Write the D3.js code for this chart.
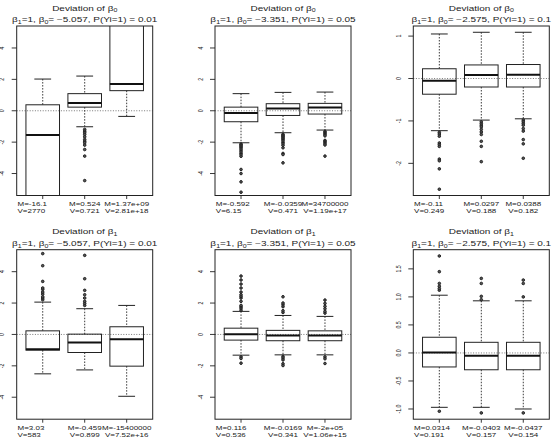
<!DOCTYPE html>
<html>
<head>
<meta charset="utf-8">
<script src="https://cdn.jsdelivr.net/npm/d3@7"></script>
<style>
  body { margin: 0; background: #fff; }
  text { font-family: "Liberation Sans", Arial, sans-serif; fill: #222; }
</style>
</head>
<body>
<svg id="chart" width="557" height="438"></svg>
<script>
// panel headings
const paramIdx = ["0", "0", "0", "1", "1", "1"];
const beta0Vals = ["\u22125.057", "\u22123.351", "\u22122.575", "\u22125.057", "\u22123.351", "\u22122.575"];
const probVals = ["0.01", "0.05", "0.1", "0.01", "0.05", "0.1"];

// fixed ylim (null = from data)
const yLims = [[-5, 5], [-5, 5], null, [-5, 5], [-5, 5], null];
const yTicks = [
  [-4, -2, 0, 2, 4], [-4, -2, 0, 2, 4], [-2, -1, 0, 1],
  [-4, -2, 0, 2, 4], [-4, -2, 0, 2, 4], [-1, -0.5, 0, 0.5, 1, 1.5]
];

// box stats: [lower whisker, q1, median, q3, upper whisker]
const stats = [
  [[-9, -7, -1.55, 0.38, 2.02], [-1.02, 0.23, 0.49, 1.09, 2.21], [-0.36, 1.28, 1.70, 7, 9]],
  [[-2.04, -0.70, -0.15, 0.23, 1.09], [-1.40, -0.30, 0.15, 0.45, 1.17], [-1.23, -0.21, 0.21, 0.47, 1.19]],
  [[-1.23, -0.37, -0.05, 0.23, 1.05], [-0.98, -0.20, 0.08, 0.32, 1.09], [-0.95, -0.20, 0.09, 0.33, 1.09]],
  [[-2.51, -1.00, -0.94, 0.23, 2.06], [-2.26, -1.15, -0.51, 0.02, 1.64], [-3.94, -2.02, -0.30, 0.49, 1.85]],
  [[-1.32, -0.36, 0.02, 0.40, 1.47], [-1.30, -0.40, -0.06, 0.26, 1.21], [-1.30, -0.40, -0.06, 0.23, 1.15]],
  [[-0.97, -0.25, 0.006, 0.28, 1.03], [-0.97, -0.30, -0.05, 0.19, 0.93], [-1.00, -0.30, -0.05, 0.19, 0.93]]
];

const outliers = [
  [[], [-1.19, -1.30, -1.40, -1.51, -1.66, -1.83, -1.94, -2.04, -2.19, -2.47, -2.89, -4.45], []],
  [[-2.12, -2.18, -2.25, -2.32, -2.40, -2.50, -2.60, -2.70, -2.80, -2.90, -3.74, -4.00, -4.53, -5.19],
   [-1.50, -1.56, -1.62, -1.68, -1.75, -1.82, -1.90, -2.00, -2.10, -2.20, -2.36, -2.72, -2.79, -3.32],
   [-1.32, -1.38, -1.45, -1.52, -1.60, -1.89, -1.95, -2.02, -2.10, -2.18, -2.89]],
  [[-1.27, -1.31, -1.36, -1.52, -1.56, -1.60, -1.90, -1.94, -2.13, -2.61],
   [-1.02, -1.06, -1.10, -1.14, -1.20, -1.26, -1.32, -1.48, -1.60, -1.96],
   [-0.98, -1.02, -1.06, -1.10, -1.18, -1.24, -1.44, -1.54, -1.88]],
  [[2.21, 2.32, 2.40, 2.57, 2.70, 2.87, 2.96, 3.38, 4.38, 5.15],
   [1.85, 1.98, 2.11, 2.32, 2.53, 2.81, 3.55, 5.04], []],
  [[1.55, 1.68, 1.77, 1.85, 2.11, 2.32, 2.43, 2.53, 2.70, 2.96, 3.21, 3.47, 3.72, -1.43, -1.53, -1.83],
   [1.40, 1.51, 1.77, 1.89, 2.00, 2.40, -1.40, -1.50, -1.62, -1.87, -1.98],
   [1.36, 1.47, 1.64, 1.79, 1.98, 2.19, -1.43, -1.55, -1.85]],
  [[1.12, 1.15, 1.19, 1.24, 1.45, 1.73, -1.04],
   [0.95, 1.01, 1.24, 1.33, -1.07],
   [1.00, 1.24, 1.30, -1.07]]
];

const meanLabels = [
  ["M=-16.1", "M=0.524", "M=1.37e+09"],
  ["M=-0.592", "M=-0.0359", "M=34700000"],
  ["M=-0.11", "M=0.0297", "M=0.0388"],
  ["M=3.03", "M=-0.459", "M=-15400000"],
  ["M=0.116", "M=-0.0169", "M=-2e+05"],
  ["M=0.0314", "M=-0.0403", "M=-0.0437"]
];
const varLabels = [
  ["V=2770", "V=0.721", "V=2.81e+18"],
  ["V=6.15", "V=0.471", "V=1.19e+17"],
  ["V=0.249", "V=0.188", "V=0.182"],
  ["V=583", "V=0.899", "V=7.52e+16"],
  ["V=0.536", "V=0.341", "V=1.06e+15"],
  ["V=0.191", "V=0.157", "V=0.154"]
];

// layout
const colLeft = [16.7, 215, 413.3];
const rowTop = [26, 249.7];
const plotW = 136, plotH = 169.5;
const K = 0.65; // vertical squash of the text

const svg = d3.select("#chart");

function squashText(g, x, y) {
  return g.append("text").attr("transform", `translate(${x},${y}) scale(1,${K})`);
}

stats.forEach((panelStats, p) => {
  const left = colLeft[p % 3];
  const top = rowTop[Math.floor(p / 3)];
  const g = svg.append("g");

  // y domain, R style 4% padding
  let lim = yLims[p];
  if (!lim) {
    const all = panelStats.flatMap(s => [s[0], s[4]]).concat(outliers[p].flat());
    lim = d3.extent(all);
  }
  const pad = (lim[1] - lim[0]) * 0.04;
  const y = d3.scaleLinear().domain([lim[0] - pad, lim[1] + pad]).range([top + plotH, top]);
  const x = d3.scaleLinear().domain([0.38, 3.62]).range([left, left + plotW]);
  const bw = x(0.8) - x(0);

  g.append("clipPath").attr("id", "clip" + p)
    .append("rect").attr("x", left).attr("y", top).attr("width", plotW).attr("height", plotH);

  const inner = g.append("g").attr("clip-path", `url(#clip${p})`);

  // dotted zero line
  inner.append("line")
    .attr("x1", left).attr("x2", left + plotW)
    .attr("y1", y(0)).attr("y2", y(0))
    .attr("stroke", "#555").attr("stroke-width", 0.8)
    .attr("stroke-dasharray", "1,1.6");

  const boxes = inner.selectAll("g.box").data(panelStats).join("g").attr("class", "box");

  // whiskers
  boxes.append("line")
    .attr("x1", (d, i) => x(i + 1)).attr("x2", (d, i) => x(i + 1))
    .attr("y1", d => y(d[4])).attr("y2", d => y(d[3]))
    .attr("stroke", "#222").attr("stroke-width", 0.9).attr("stroke-dasharray", "1.5,1.5");
  boxes.append("line")
    .attr("x1", (d, i) => x(i + 1)).attr("x2", (d, i) => x(i + 1))
    .attr("y1", d => y(d[1])).attr("y2", d => y(d[0]))
    .attr("stroke", "#222").attr("stroke-width", 0.9).attr("stroke-dasharray", "1.5,1.5");
  // staples
  [0, 4].forEach(k => {
    boxes.append("line")
      .attr("x1", (d, i) => x(i + 1) - bw / 4).attr("x2", (d, i) => x(i + 1) + bw / 4)
      .attr("y1", d => y(d[k])).attr("y2", d => y(d[k]))
      .attr("stroke", "#222").attr("stroke-width", 1);
  });
  // box
  boxes.append("rect")
    .attr("x", (d, i) => x(i + 1) - bw / 2)
    .attr("width", bw)
    .attr("y", d => y(d[3]))
    .attr("height", d => y(d[1]) - y(d[3]))
    .attr("fill", "none").attr("stroke", "#222").attr("stroke-width", 1);
  // median
  boxes.append("line")
    .attr("x1", (d, i) => x(i + 1) - bw / 2).attr("x2", (d, i) => x(i + 1) + bw / 2)
    .attr("y1", d => y(d[2])).attr("y2", d => y(d[2]))
    .attr("stroke", "#111").attr("stroke-width", 2);

  // outliers
  outliers[p].forEach((pts, i) => {
    inner.selectAll(null).data(pts).join("circle")
      .attr("cx", x(i + 1)).attr("cy", d => y(d)).attr("r", 1.3)
      .attr("fill", "#555").attr("stroke", "#222").attr("stroke-width", 1);
  });

  // frame
  g.append("rect")
    .attr("x", left).attr("y", top).attr("width", plotW).attr("height", plotH)
    .attr("fill", "none").attr("stroke", "#222").attr("stroke-width", 1);

  // y axis ticks and rotated labels
  const fmt = p === 5 ? d3.format(".1f") : d3.format("d");
  yTicks[p].forEach(t => {
    g.append("line")
      .attr("x1", left - 5).attr("x2", left)
      .attr("y1", y(t)).attr("y2", y(t))
      .attr("stroke", "#222").attr("stroke-width", 0.9);
    g.append("text")
      .attr("transform", `translate(${left - 12.5},${y(t)}) scale(1,${K}) rotate(-90)`)
      .attr("text-anchor", "middle")
      .style("font-size", "8px")
      .text(fmt(t).replace("\u2212", "-"));
  });

  // x ticks and M/V labels
  [1, 2, 3].forEach((c, i) => {
    g.append("line")
      .attr("x1", x(c)).attr("x2", x(c))
      .attr("y1", top + plotH).attr("y2", top + plotH + 3.5)
      .attr("stroke", "#222").attr("stroke-width", 0.9);
    const first = i === 0;
    const tx = first ? left + 0.8 : x(c);
    [meanLabels[p][i], varLabels[p][i]].forEach((lab, j) => {
      squashText(g, tx, top + plotH + 10.6 + j * 7.2)
        .attr("text-anchor", first ? "start" : "middle")
        .style("font-size", "8px")
        .text(lab);
    });
  });

  // title and subtitle
  const cx = left + plotW / 2;
  const t1 = squashText(g, cx, top - 15.4)
    .attr("text-anchor", "middle").style("font-size", "10px");
  t1.append("tspan").text("Deviation of \u03b2");
  t1.append("tspan").attr("dy", 2.5).style("font-size", "7px").text(paramIdx[p]);

  const t2 = squashText(g, cx, top - 3.7)
    .attr("text-anchor", "middle").style("font-size", "10px");
  t2.append("tspan").text("\u03b2");
  t2.append("tspan").attr("dy", 2.5).style("font-size", "7px").text("1");
  t2.append("tspan").attr("dy", -2.5).text("=1, \u03b2");
  t2.append("tspan").attr("dy", 2.5).style("font-size", "7px").text("0");
  t2.append("tspan").attr("dy", -2.5).text(`= ${beta0Vals[p]}, P(Yi=1) = ${probVals[p]}`);
});
</script>
</body>
</html>
